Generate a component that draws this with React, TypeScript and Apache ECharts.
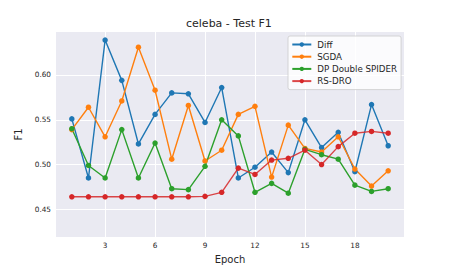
import React, { useEffect, useRef } from "react";
import * as echarts from "echarts";

const epochs = [1, 2, 3, 4, 5, 6, 7, 8, 9, 10, 11, 12, 13, 14, 15, 16, 17, 18, 19, 20];
const xTicks = [3, 6, 9, 12, 15, 18];
const yTicks = [0.45, 0.5, 0.55, 0.6];
const seriesNames = ["Diff", "SGDA", "DP Double SPIDER", "RS-DRO"];
const diff = [0.551, 0.485, 0.639, 0.594, 0.523, 0.556, 0.58, 0.579, 0.547, 0.586, 0.485, 0.497, 0.514, 0.491, 0.55, 0.519, 0.536, 0.492, 0.567, 0.521];
const sgda = [0.539, 0.564, 0.531, 0.571, 0.631, 0.583, 0.506, 0.566, 0.504, 0.516, 0.556, 0.565, 0.486, 0.544, 0.518, 0.514, 0.531, 0.495, 0.476, 0.493];
const spider = [0.54, 0.499, 0.485, 0.539, 0.485, 0.524, 0.473, 0.472, 0.498, 0.55, 0.532, 0.469, 0.479, 0.468, 0.517, 0.511, 0.506, 0.477, 0.47, 0.473];
const rsdro = [0.464, 0.464, 0.464, 0.464, 0.464, 0.464, 0.464, 0.464, 0.4645, 0.469, 0.496, 0.489, 0.505, 0.507, 0.516, 0.5, 0.52, 0.535, 0.537, 0.535];
const colors = ["#1f77b4", "#ff7f0e", "#2ca02c", "#d62728"];

const FONT = "DejaVu Sans";
const TXT = "#262626";

export default function App() {
  const ref = useRef<HTMLDivElement>(null);
  useEffect(() => {
    if (!ref.current) return;
    const chart = echarts.init(ref.current, undefined, { renderer: "svg" });
    const values = [diff, sgda, spider, rsdro];
    chart.setOption({
      animation: false,
      backgroundColor: "#ffffff",
      title: {
        text: "celeba - Test F1",
        left: 186,
        top: 18,
        padding: 0,
        textStyle: { fontFamily: FONT, fontSize: 11, fontWeight: "normal", color: TXT },
      },
      legend: {
        orient: "vertical",
        left: 288,
        top: 36,
        padding: [3.5, 4, 3.5, 3.3],
        itemWidth: 19,
        itemHeight: 5.5,
        itemGap: 2.2,
        backgroundColor: "rgba(255,255,255,0.8)",
        borderColor: "#cccccc",
        borderWidth: 0.8,
        borderRadius: 2,
        textStyle: { fontFamily: FONT, fontSize: 8.7, color: TXT, lineHeight: 10, padding: [0, 0, 0, 1] },
        data: seriesNames,
      },
      grid: {
        left: 56,
        right: 45,
        top: 32,
        bottom: 31,
        show: true,
        backgroundColor: "#eaeaf2",
        borderWidth: 0,
      },
      xAxis: {
        type: "value",
        min: 0.05,
        max: 20.95,
        name: "Epoch",
        nameLocation: "middle",
        nameGap: 14,
        nameTextStyle: { fontFamily: FONT, fontSize: 10, color: TXT },
        axisLine: { show: false },
        axisTick: { show: false, customValues: xTicks },
        axisLabel: { customValues: xTicks, margin: 5, fontFamily: FONT, fontSize: 7.3, color: TXT },
        splitLine: { show: true, lineStyle: { color: "#ffffff", width: 1 } },
      },
      yAxis: {
        type: "value",
        min: 0.419,
        max: 0.648,
        name: "F1",
        nameLocation: "middle",
        nameGap: 25,
        nameTextStyle: { fontFamily: FONT, fontSize: 10, color: TXT },
        axisLine: { show: false },
        axisTick: { show: false, customValues: yTicks },
        axisLabel: {
          customValues: yTicks,
          margin: 5,
          fontFamily: FONT,
          fontSize: 7.3,
          color: TXT,
          formatter: (v: number) => v.toFixed(2),
        },
        splitLine: { show: true, lineStyle: { color: "#ffffff", width: 1 } },
      },
      series: seriesNames.map((name, i) => ({
        name,
        type: "line",
        data: epochs.map((e, j) => [e, values[i][j]]),
        symbol: "circle",
        symbolSize: 5.5,
        showSymbol: true,
        itemStyle: { color: colors[i] },
        lineStyle: { color: colors[i], width: 1.4, opacity: i === 3 ? 0.85 : 1 },
        emphasis: { disabled: true },
      })),
    });
    return () => chart.dispose();
  }, []);
  return <div ref={ref} style={{ position: "fixed", left: 0, top: 0, width: 449, height: 269 }} />;
}
